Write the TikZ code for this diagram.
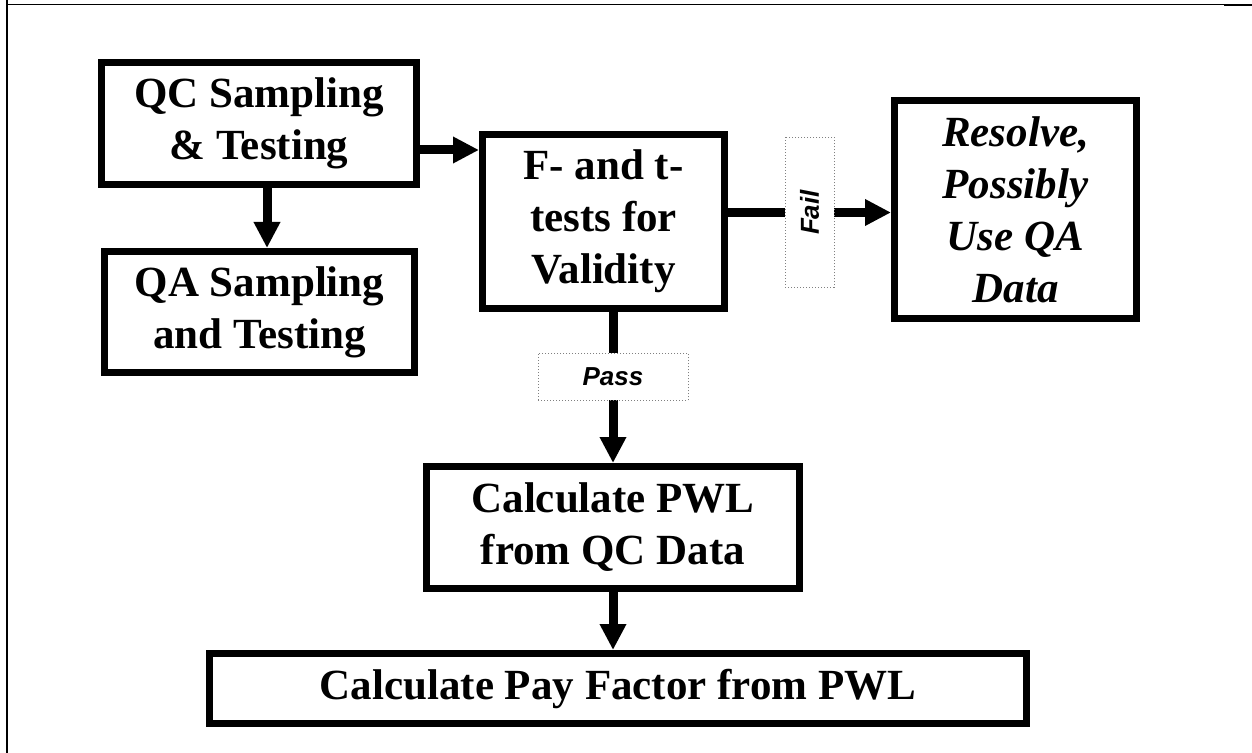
\documentclass[tikz,border=0pt]{standalone}
\usepackage{fontspec}
\setmainfont{Liberation Serif}
\setsansfont{Liberation Sans}
\usetikzlibrary{arrows.meta}

\begin{document}
\begin{tikzpicture}[x=0.5pt, y=-0.5pt,
	box/.style={draw, line width=3.5pt, fill=white, align=center, inner sep=0pt,
		font=\bfseries\fontsize{21.5}{26}\selectfont},
	lbl/.style={draw=gray, densely dotted, line width=0.5pt, fill=white, inner sep=0pt,
		font=\sffamily\bfseries\itshape\fontsize{13}{15}\selectfont},
	arr/.style={line width=4.5pt, -{Triangle[width=12.5pt, length=13pt]}}]
	\useasboundingbox (0, 0) rectangle (1252, 753);

	% page frame
	\draw[line width=1pt] (6.5, 0) to (6.5, 753);
	\draw[line width=0.75pt] (6.5, 4.7) to (1224, 4.7);
	\draw[line width=1pt] (1224, 5.3) to (1252, 5.3);

	% boxes
	\node[box, minimum width=157.5pt, minimum height=61pt] (qc) at (259, 123.5)
		{QC Sampling\\\& Testing};
	\node[box, minimum width=155pt, minimum height=60.5pt] (qa) at (259.5, 312)
		{QA Sampling\\and Testing};
	\node[box, minimum width=121pt, minimum height=87pt] (ft) at (603.5, 221.5)
		{F- and t-\\tests for\\Validity};
	\node[box, minimum width=121pt, minimum height=109pt, font=\bfseries\itshape\fontsize{21.5}{26}\selectfont] (res) at (1015.5, 209.5)
		{Resolve,\\Possibly\\Use QA\\Data};
	\node[box, minimum width=186.5pt, minimum height=61pt] (pwl) at (613, 527.5)
		{Calculate PWL\\from QC Data};
	\node[box, minimum width=408.5pt, minimum height=35pt] (pay) at (618, 688.5)
		{Calculate Pay Factor from PWL};

	% arrows
	\draw[arr] ([xshift=4pt]qc.south) to ([xshift=4pt]qc.south |- qa.north);
	\draw[arr] ([yshift=-13.25pt]qc.east) to ([yshift=-13.25pt]qc.east -| ft.west);
	\draw[arr] ([yshift=4.5pt]ft.east) -- node[lbl, rotate=90, minimum width=75pt, minimum height=24.5pt]{Fail}
		([yshift=4.5pt]ft.east -| res.west);
	\draw[arr] (pwl.north |- ft.south) -- node[lbl, pos=.43, minimum width=75pt, minimum height=23.5pt]{Pass}
		(pwl.north);
	\draw[arr] (pwl.south) to (pwl.south |- pay.north);
\end{tikzpicture}
\end{document}
